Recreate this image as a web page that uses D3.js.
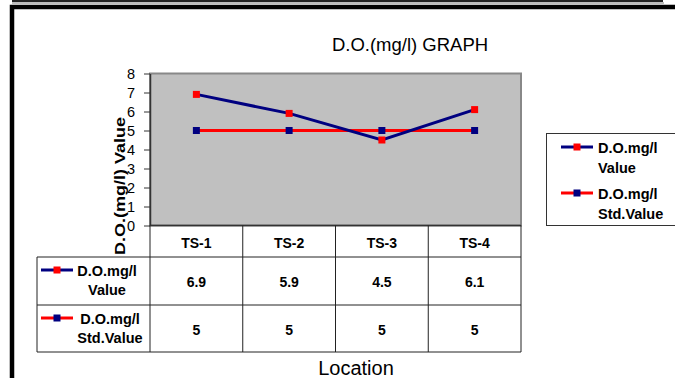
<!DOCTYPE html>
<html>
<head>
<meta charset="utf-8">
<script src="https://cdn.jsdelivr.net/npm/d3@7"></script>
<style>
  html, body { margin: 0; padding: 0; background: #fff; }
  svg { display: block; font-family: "Liberation Sans", Arial, sans-serif; }
</style>
</head>
<body>
<svg id="chart" width="675" height="378"></svg>
<script>
// Dissolved oxygen readings at four sampling stations
const categories = ["TS-1", "TS-2", "TS-3", "TS-4"];
const measuredValues = [6.9, 5.9, 4.5, 6.1];
const standardValues = [5, 5, 5, 5];
const yTicks = [0, 1, 2, 3, 4, 5, 6, 7, 8];
const seriesNames = [["D.O.mg/l", "Value"], ["D.O.mg/l", "Std.Value"]];
const valueLabels = ["6.9", "5.9", "4.5", "6.1"];
const stdLabels = ["5", "5", "5", "5"];

const NAVY = "#000080", RED = "#ff0000";
const series = [
  { name: seriesNames[0], values: measuredValues, labels: valueLabels, line: NAVY, marker: RED },
  { name: seriesNames[1], values: standardValues, labels: stdLabels, line: RED, marker: NAVY }
];

const svg = d3.select("#chart");

// outer frame
svg.append("rect").attr("x", 12).attr("y", 2).attr("width", 652).attr("height", 2).attr("fill", "#bbb");
svg.append("line").attr("x1", 12).attr("x2", 663).attr("y1", 1).attr("y2", 1).attr("stroke", "#222").attr("stroke-width", 2);
svg.append("path").attr("d", "M12,380 V7 H680").attr("fill", "none").attr("stroke", "#000").attr("stroke-width", 4.5);

// plot area
const plot = { left: 150, right: 521, top: 73.5, bottom: 225.5 };
const x = d3.scaleBand().domain(categories).range([plot.left, plot.right]);
const y = d3.scaleLinear().domain([0, 8]).range([plot.bottom, plot.top]);

svg.append("rect")
  .attr("x", plot.left).attr("y", plot.top)
  .attr("width", plot.right - plot.left).attr("height", plot.bottom - plot.top)
  .attr("fill", "#c0c0c0").attr("stroke", "#888").attr("stroke-width", 2);

// y axis
const yAxis = svg.append("g")
  .attr("transform", `translate(${plot.left},0)`)
  .call(d3.axisLeft(y).tickValues(yTicks).tickSize(6).tickSizeOuter(0).tickPadding(9));
yAxis.select(".domain").attr("stroke", "#333").attr("stroke-width", 1.5);
yAxis.selectAll(".tick line").attr("stroke", "#333");
yAxis.selectAll(".tick text").attr("font-size", 14.5).attr("fill", "#000")
  .attr("font-family", "'Liberation Sans', Arial, sans-serif");

// y axis title
svg.append("text")
  .attr("transform", "translate(125,186) rotate(-90)")
  .attr("text-anchor", "middle")
  .attr("font-size", 14.5).attr("font-weight", "bold")
  .attr("textLength", 138).attr("lengthAdjust", "spacingAndGlyphs")
  .text("D.O.(mg/l) Value");

// chart title
svg.append("text")
  .attr("x", 410).attr("y", 51).attr("text-anchor", "middle")
  .attr("font-size", 18.5)
  .text("D.O.(mg/l) GRAPH");

// series lines and markers
const line = d3.line().x((d, i) => x(categories[i]) + x.bandwidth() / 2).y(d => y(d));
series.slice().reverse().forEach(s => {
  svg.append("path").datum(s.values)
    .attr("d", line).attr("fill", "none")
    .attr("stroke", s.line).attr("stroke-width", 3);
});
series.slice().reverse().forEach(s => {
  svg.selectAll(null).data(s.values).enter().append("rect")
    .attr("x", (d, i) => x(categories[i]) + x.bandwidth() / 2 - 3.5)
    .attr("y", d => y(d) - 3.5)
    .attr("width", 7).attr("height", 7)
    .attr("fill", s.marker);
});

// x axis line
svg.append("line").attr("x1", plot.left).attr("x2", plot.right)
  .attr("y1", plot.bottom).attr("y2", plot.bottom)
  .attr("stroke", "#333").attr("stroke-width", 1.5);

// data table
const table = { left: 37, headerBottom: 257, rowBottoms: [305, 352] };
const tg = svg.append("g").attr("stroke", "#222").attr("stroke-width", 1);
const colEdges = categories.map(c => x(c)).concat([plot.right]);
colEdges.forEach(cx => {
  tg.append("line").attr("x1", cx).attr("x2", cx)
    .attr("y1", plot.bottom).attr("y2", table.rowBottoms[1]);
});
[table.headerBottom].concat(table.rowBottoms).forEach(ry => {
  tg.append("line").attr("x1", table.left).attr("x2", plot.right).attr("y1", ry).attr("y2", ry);
});
tg.append("line").attr("x1", table.left).attr("x2", table.left)
  .attr("y1", table.headerBottom).attr("y2", table.rowBottoms[1]);

// header labels
svg.selectAll(".hdr").data(categories).enter().append("text")
  .attr("x", d => x(d) + x.bandwidth() / 2).attr("y", 248)
  .attr("text-anchor", "middle").attr("font-size", 14).attr("font-weight", "bold")
  .text(d => d);

// legend key used in the table and in the legend box
function key(g, cx, cy, s) {
  g.append("line").attr("x1", cx - 16).attr("x2", cx + 16).attr("y1", cy).attr("y2", cy)
    .attr("stroke", s.line).attr("stroke-width", 3);
  g.append("rect").attr("x", cx - 3.5).attr("y", cy - 3.5).attr("width", 7).attr("height", 7)
    .attr("fill", s.marker);
}

// table rows
const rowTops = [table.headerBottom, table.rowBottoms[0]];
series.forEach((s, r) => {
  const top = rowTops[r];
  key(svg, 57, top + 13, s);
  const tx = r === 0 ? 107 : 110;
  svg.append("text").attr("x", tx).attr("y", top + 19)
    .attr("text-anchor", "middle").attr("font-size", 14.5).attr("font-weight", "bold")
    .text(s.name[0]);
  svg.append("text").attr("x", tx).attr("y", top + 38)
    .attr("text-anchor", "middle").attr("font-size", 14.5).attr("font-weight", "bold")
    .text(s.name[1]);
  svg.selectAll(null).data(s.labels).enter().append("text")
    .attr("x", (d, i) => x(categories[i]) + x.bandwidth() / 2)
    .attr("y", top + 30)
    .attr("text-anchor", "middle").attr("font-size", 14).attr("font-weight", "bold")
    .text(d => d);
});

// x axis title
svg.append("text").attr("x", 356).attr("y", 375).attr("text-anchor", "middle")
  .attr("font-size", 20).text("Location");

// legend box
const lg = svg.append("g");
lg.append("rect").attr("x", 546.5).attr("y", 133.5).attr("width", 130).attr("height", 92)
  .attr("fill", "#fff").attr("stroke", "#333").attr("stroke-width", 1);
series.forEach((s, i) => {
  const cy = 147 + i * 46;
  key(lg, 577, cy, s);
  lg.append("text").attr("x", 598).attr("y", cy + 6)
    .attr("font-size", 14.5).attr("font-weight", "bold").text(s.name[0]);
  lg.append("text").attr("x", 598).attr("y", cy + 26)
    .attr("font-size", 14.5).attr("font-weight", "bold").text(s.name[1]);
});
</script>
</body>
</html>
